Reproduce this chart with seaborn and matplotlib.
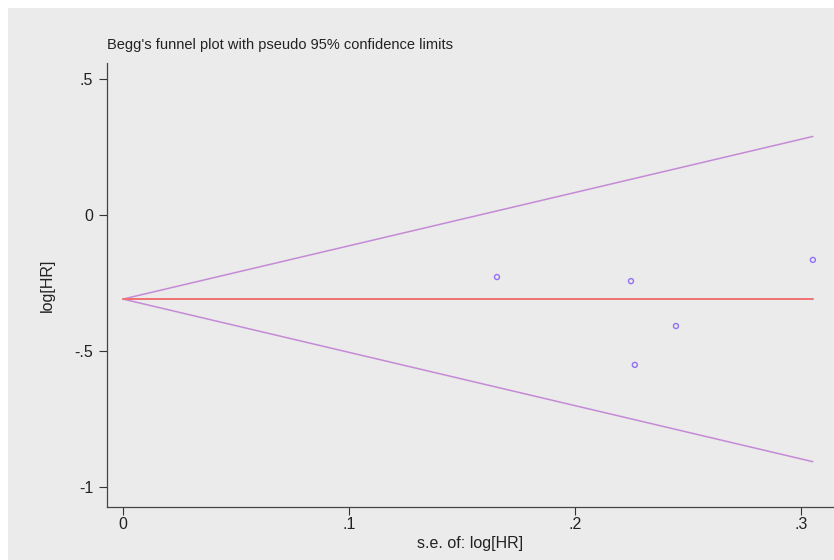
import pandas as pd
import seaborn as sns
import matplotlib.pyplot as plt
from matplotlib.patches import Rectangle

# study estimates
se_values = [0.1655, 0.2248, 0.2265, 0.2447, 0.3053]
loghr_values = [-0.228, -0.243, -0.551, -0.408, -0.165]

# pooled estimate and pseudo 95% limits (end points of the funnel)
funnel_se = [0.0, 0.3053]
pooled = [-0.309, -0.309]
upper_limit = [-0.309, 0.289]
lower_limit = [-0.309, -0.907]

x_ticks = [0, 0.1, 0.2, 0.3]
x_tick_labels = ["0", ".1", ".2", ".3"]
y_ticks = [0.5, 0, -0.5, -1]
y_tick_labels = [".5", "0", "-.5", "-1"]

bg = "#EBEBEB"
sns.set_style("ticks")
plt.rcParams['font.family'] = ['Liberation Sans', 'DejaVu Sans']

fig = plt.figure(figsize=(8.34, 5.6), dpi=100)
fig.patch.set_facecolor("white")
fig.add_artist(Rectangle((8 / 834, 0), 1, 1 - 8 / 560, transform=fig.transFigure,
                         facecolor=bg, edgecolor="none", zorder=-10))

ax = fig.add_axes([107 / 834, 1 - 507 / 560, (833 - 107) / 834, (507 - 63) / 560])
ax.set_facecolor(bg)

df = pd.DataFrame({"se": se_values, "loghr": loghr_values})
lines = pd.DataFrame({"se": funnel_se, "pooled": pooled,
                      "upper": upper_limit, "lower": lower_limit})

sns.lineplot(data=lines, x="se", y="upper", color="#C58AD6", linewidth=1.1, ax=ax)
sns.lineplot(data=lines, x="se", y="lower", color="#C58AD6", linewidth=1.1, ax=ax)
sns.lineplot(data=lines, x="se", y="pooled", color="#F07272", linewidth=1.4, ax=ax)
sns.scatterplot(data=df, x="se", y="loghr", marker="o", s=13, facecolors="none",
                edgecolor="#9470F5", linewidth=1.0, ax=ax, zorder=5)

ax.set_xlim(-0.00708, 0.3142)
ax.set_ylim(-1.0735, 0.559)
ax.set_xticks(x_ticks)
ax.set_xticklabels(x_tick_labels)
ax.set_yticks(y_ticks)
ax.set_yticklabels(y_tick_labels)
ax.tick_params(axis="both", labelsize=11.5, colors="#333333", length=6, width=0.8,
               direction="out")
ax.tick_params(axis="x", pad=1)
ax.tick_params(axis="y", pad=4)
ax.tick_params(axis="both", labelcolor="#222222")

sns.despine(ax=ax)
for side in ["left", "bottom"]:
    ax.spines[side].set_color("#444444")
    ax.spines[side].set_linewidth(0.9)

ax.set_xlabel("s.e. of: log[HR]", fontsize=11.5, color="#222222", labelpad=3)
ax.set_ylabel("log[HR]", fontsize=11.5, color="#222222", labelpad=14)
fig.text(107 / 834, 1 - 45 / 560, "Begg's funnel plot with pseudo 95% confidence limits",
         fontsize=10.5, color="#222222", va="center", ha="left")

fig.savefig("out.png", dpi=100, facecolor=fig.get_facecolor())
